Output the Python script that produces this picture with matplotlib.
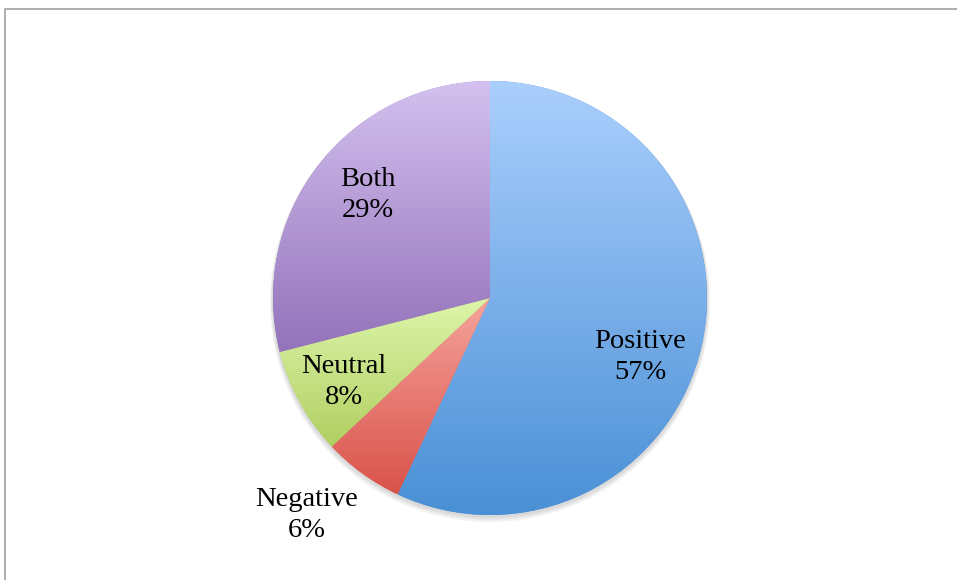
import numpy as np
import matplotlib.pyplot as plt
from matplotlib.colors import to_rgb
from matplotlib.patches import Circle

labels = ["Positive", "Negative", "Neutral", "Both"]
shares = [57, 6, 8, 29]
top_colors = ["#abcffd", "#f6a39d", "#ddf5aa", "#d4c1ef"]
bottom_colors = ["#4a90d6", "#d9534a", "#b0cf62", "#9372ba"]
# label centres in pixels (x, y from top)
label_pos = [(640, 357), (307, 515), (344, 382), (368, 195)]

W, H = 957, 580
cx, cy, r = 490, H - 298, 217

fig = plt.figure(figsize=(W / 100, H / 100), dpi=100)
ax = fig.add_axes([0, 0, 1, 1])

# soft shadow under the pie
for k, a in enumerate([0.05, 0.05, 0.05]):
    ax.add_patch(Circle((cx, cy - 2 - k), r + 1 + k, color="black", alpha=a,
                        lw=0, zorder=0))

wedges, _ = ax.pie(shares, center=(cx, cy), radius=r, startangle=90,
                   counterclock=False, colors=bottom_colors,
                   wedgeprops=dict(linewidth=0))

for w, c_top, c_bot in zip(wedges, top_colors, bottom_colors):
    ext = w.get_path().get_extents()
    t = np.linspace(0, 1, 256)[:, None, None]
    grad = (1 - t) * np.array(to_rgb(c_top)) + t * np.array(to_rgb(c_bot))
    im = ax.imshow(grad, extent=(ext.x0, ext.x1, ext.y0, ext.y1),
                   origin="upper", aspect="auto", zorder=2,
                   interpolation="bilinear")
    im.set_clip_path(w)

for name, v, (px, py) in zip(labels, shares, label_pos):
    ax.text(px, H - py, f"{name}\n{v}%", ha="center", va="center",
            fontsize=20.5, family="Liberation Serif", linespacing=1.28,
            zorder=5)

# frame of the chart area (only top and left visible)
ax.plot([5, 5, W + 5], [-5, H - 9, H - 9], color="#a0a0a0", lw=1.2,
        clip_on=False, zorder=6)

ax.set_xlim(0, W)
ax.set_ylim(0, H)
ax.set_aspect("auto")
ax.axis("off")

fig.savefig("out.png", dpi=100)
